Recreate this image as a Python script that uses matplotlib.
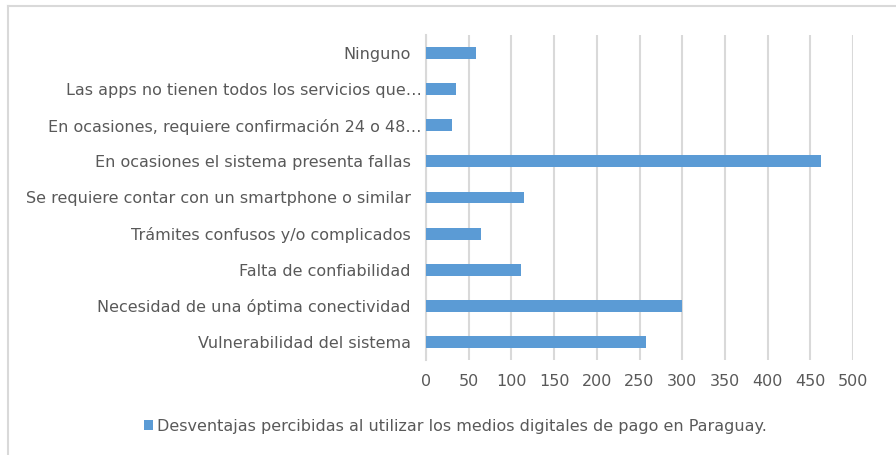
import matplotlib
matplotlib.use("Agg")
import matplotlib.pyplot as plt
import matplotlib.transforms as mtransforms
from matplotlib.lines import Line2D

# categories listed bottom -> top
categorias = [
    "Vulnerabilidad del sistema",
    "Necesidad de una óptima conectividad",
    "Falta de confiabilidad",
    "Trámites confusos y/o complicados",
    "Se requiere contar con un smartphone o similar",
    "En ocasiones el sistema presenta fallas",
    "En ocasiones, requiere confirmación 24 o 48…",
    "Las apps no tienen todos los servicios que…",
    "Ninguno",
]
valores = [258, 300, 111, 64, 115, 463, 31, 35, 58]
serie = "Desventajas percibidas al utilizar los medios digitales de pago en Paraguay."
ticks_x = list(range(0, 501, 50))

gris = "#595959"
azul = "#5b9bd5"

plt.rcParams['font.family'] = ['DejaVu Sans']

fig = plt.figure(figsize=(8.96, 4.55), dpi=100)
ax = fig.add_axes([426/896, 95/455, 427/896, 325/455])

ax.barh(range(len(categorias)), valores, height=0.33, color=azul, label=serie, zorder=3)
ax.set_xlim(0, 500)
ax.set_ylim(-0.5, len(categorias) - 0.5)
ax.set_xticks(ticks_x)
ax.set_yticks(range(len(categorias)))
ax.set_yticklabels(categorias)
ax.tick_params(axis='both', length=0, colors=gris, labelsize=11.5)
ax.tick_params(axis='x', pad=10)
ax.tick_params(axis='y', pad=11)
ax.grid(axis='x', color='#d9d9d9', linewidth=1.5, zorder=0)
for s in ['top', 'right', 'bottom']:
    ax.spines[s].set_visible(False)
ax.spines['left'].set_color('#d9d9d9')
ax.spines['left'].set_linewidth(1.5)

# truncated labels run a bit closer to the axis, like the original
for lab in ax.get_yticklabels():
    if lab.get_text().endswith("…"):
        lab.set_transform(lab.get_transform() +
                          mtransforms.ScaledTranslation(11/100, 0, fig.dpi_scale_trans))

fig.legend(loc='center', bbox_to_anchor=(0.508, 1 - 426/455), frameon=False,
           fontsize=11.5, labelcolor=gris, handlelength=0.55, handleheight=0.55,
           handletextpad=0.25)

# outer chart frame
fig.add_artist(Line2D([7.5/896, 1], [1 - 6/455, 1 - 6/455], color='#d9d9d9', linewidth=1.5))
fig.add_artist(Line2D([7.5/896, 7.5/896], [0, 1 - 6/455], color='#d9d9d9', linewidth=1.5))

fig.savefig("out.png", dpi=100)
